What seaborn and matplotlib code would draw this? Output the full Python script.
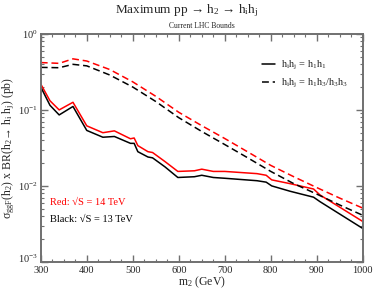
import numpy as np
import pandas as pd
import matplotlib
matplotlib.use('Agg')
import matplotlib.pyplot as plt
import matplotlib.ticker as mticker
import matplotlib.transforms as mtransforms
import seaborn as sns

# --- data (pb) ---
m_solid = [300, 320, 340, 370, 400, 435, 460, 495, 503, 511, 533, 543, 570,
           598, 634, 650, 675, 700, 770, 790, 802, 842, 893, 907, 1000]
red_solid = [0.219, 0.132, 0.100, 0.126, 0.0617, 0.0501, 0.0530, 0.0417, 0.0427,
             0.0339, 0.0282, 0.0275, 0.0209, 0.0155, 0.0158, 0.0166, 0.0155,
             0.0155, 0.0145, 0.0138, 0.0120, 0.0107, 0.0091, 0.0076, 0.0034]
black_solid = [0.200, 0.115, 0.0859, 0.111, 0.0537, 0.0437, 0.0447, 0.0363, 0.0363,
               0.0282, 0.0240, 0.0234, 0.0178, 0.0129, 0.0132, 0.0138, 0.0129,
               0.0126, 0.0117, 0.0112, 0.0100, 0.0085, 0.0071, 0.0062, 0.00275]

m_dash = [300, 340, 370, 400, 450, 500, 550, 600, 650, 700, 750, 800, 850, 900, 950, 1000]
red_dash = [0.42, 0.41, 0.47, 0.44, 0.34, 0.234, 0.151, 0.093, 0.062, 0.042,
            0.028, 0.0186, 0.0132, 0.0095, 0.0069, 0.0051]
black_dash = [0.363, 0.359, 0.398, 0.38, 0.288, 0.20, 0.129, 0.079, 0.052, 0.035,
              0.0234, 0.0155, 0.0107, 0.0078, 0.0056, 0.0041]

legend_labels = [r'h$_{i}$h$_{j}$ = h$_{1}$h$_{1}$',
                 r'h$_{i}$h$_{j}$ = h$_{1}$h$_{3}$/h$_{3}$h$_{3}$']

sns.set_style('ticks')
plt.rcParams['font.family'] = ['Liberation Serif', 'DejaVu Serif']
plt.rcParams['mathtext.fontset'] = 'stix'
plt.rcParams['mathtext.default'] = 'regular'

fig = plt.figure(figsize=(3.74, 2.90), dpi=100, facecolor='white')
ax = fig.add_axes([0.109, 0.097, 0.861, 0.786], facecolor='white')

lw = 1.1
sns.lineplot(x=m_solid, y=red_solid, ax=ax, color='red', lw=lw)
sns.lineplot(x=m_solid, y=black_solid, ax=ax, color='black', lw=lw)
sns.lineplot(x=m_dash, y=red_dash, ax=ax, color='red', lw=lw)
sns.lineplot(x=m_dash, y=black_dash, ax=ax, color='black', lw=lw)
for ln in ax.lines[2:]:
    ln.set_dashes([4.5, 2.5])

ax.set_yscale('log')
ax.set_xlim(300, 1000)
ax.set_ylim(1e-3, 1)

ax.xaxis.set_major_locator(mticker.MultipleLocator(100))
ax.xaxis.set_minor_locator(mticker.MultipleLocator(25))
ax.yaxis.set_major_locator(mticker.LogLocator(base=10, numticks=10))
ax.yaxis.set_minor_locator(mticker.LogLocator(base=10, subs=np.arange(2, 10), numticks=20))
ax.yaxis.set_minor_formatter(mticker.NullFormatter())
ax.yaxis.set_major_formatter(mticker.FuncFormatter(lambda v, p: r'10$^{%d}$' % round(np.log10(v))))

spine_c = '#707070'
for s in ax.spines.values():
    s.set_color(spine_c)
    s.set_linewidth(1.4)
ax.tick_params(which='both', direction='in', top=True, right=True, color=spine_c,
               labelsize=7.5, pad=2)
ax.tick_params(axis='x', pad=3)
ax.tick_params(which='major', length=5, width=1)
ax.tick_params(which='minor', length=2.5, width=0.8)

ax.set_xlabel('m$_{2}$ (GeV)', fontsize=8.5, labelpad=0)
ax.set_ylabel('σ$_{ggF}$(h$_{2}$) x BR(h$_{2}$→ h$_{i}$ h$_{j}$) (pb)', fontsize=8.5, labelpad=1)

fig.text(0.5, 0.962, 'Maximum pp → h$_{2}$ → h$_{i}$h$_{j}$',
         ha='center', va='center', fontsize=9.5)
ax.set_title('Current LHC Bounds', fontsize=5.5, pad=4)

ax.text(0.028, 0.26, 'Red: √S = 14 TeV', color='red', fontsize=7.5,
        transform=ax.transAxes, va='center')
ax.text(0.028, 0.185, 'Black: √S = 13 TeV', color='black', fontsize=7.5,
        transform=ax.transAxes, va='center')

h1, = ax.plot([], [], color='black', lw=lw)
h2, = ax.plot([], [], color='black', lw=lw, dashes=[4.5, 2.5])
ax.legend([h1, h2], legend_labels, loc='upper right', bbox_to_anchor=(0.985, 0.93),
          frameon=False, fontsize=7.5, handlelength=1.3, handletextpad=0.6,
          labelspacing=0.45)

# lift the lowest y label a little so it clears the "300" label, as in the reference
fig.canvas.draw()
for lab in ax.get_yticklabels():
    if '-3' in lab.get_text():
        lab.set_transform(lab.get_transform() +
                          mtransforms.ScaledTranslation(0, 4 / 100, fig.dpi_scale_trans))

fig.savefig('out.png', dpi=100, facecolor='white')
